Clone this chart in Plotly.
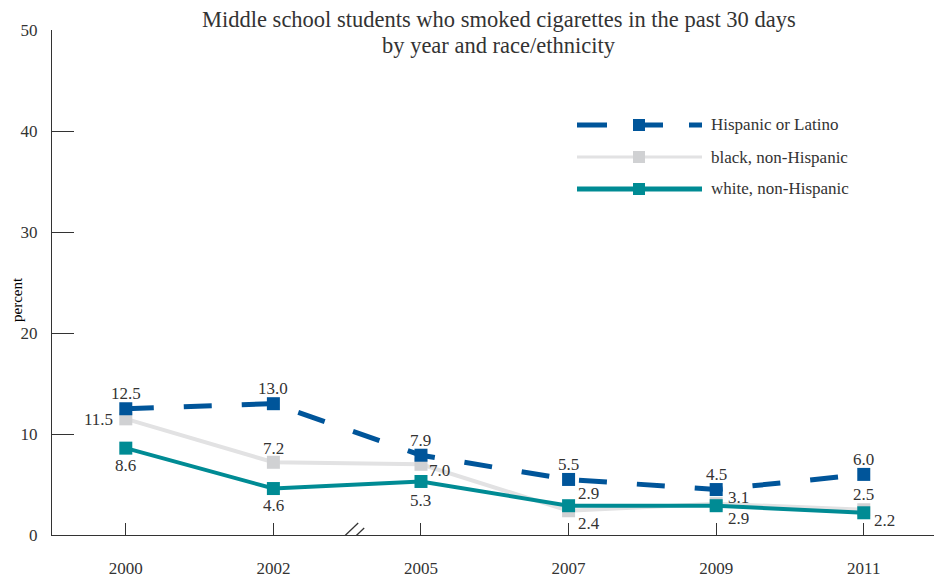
import plotly.graph_objects as go

years = ["2000", "2002", "2005", "2007", "2009", "2011"]
hispanic = [12.5, 13.0, 7.9, 5.5, 4.5, 6.0]
black = [11.5, 7.2, 7.0, 2.4, 3.1, 2.5]
white = [8.6, 4.6, 5.3, 2.9, 2.9, 2.2]
y_ticks = [0, 10, 20, 30, 40, 50]

C_HISP = "#00559a"
C_BLACK_LINE = "#e2e2e3"
C_BLACK_MK = "#d0d1d3"
C_WHITE = "#008b94"
FONT = "Liberation Serif"
TXT = "#333333"

# page body has an 8px margin; figure is sized/offset to land on the reference pixels
OFF = 8
W, H = 942 - OFF, 579 - OFF
L, T = 52 - OFF, 30 - OFF
R = 0
PW, PH = 890, 505
B = H - T - PH

def px(xs):
    return (xs - 52) / PW

def py(ys):
    return (535 - ys) / PH

fig = go.Figure()

series = [
    ("black, non-Hispanic", black, C_BLACK_LINE, C_BLACK_MK, 4, "solid"),
    ("white, non-Hispanic", white, C_WHITE, C_WHITE, 4, "solid"),
    ("Hispanic or Latino", hispanic, C_HISP, C_HISP, 5, "28px,30px"),
]
for name, vals, lc, mc, lw, dash in series:
    fig.add_trace(go.Scatter(
        x=years, y=vals, mode="lines+markers", name=name,
        line=dict(color=lc, width=lw, dash=dash),
        marker=dict(symbol="square", size=13, color=mc),
        cliponaxis=False, showlegend=False,
    ))

# label placement per point: (xanchor, xshift, yshift)
label_pos = {
    "hispanic": [("center", 0, 15)] * 6,
    "black": [("right", -11, -1), ("center", 0, 14), ("left", 6, -6),
              ("left", 7, -13), ("left", 10, 6), ("center", 0, 15)],
    "white": [("center", 0, -17), ("center", 0, -17), ("center", 0, -19),
              ("left", 7, 12), ("left", 10, -13), ("left", 8, -8)],
}
annotations = []
for key, vals in (("black", black), ("white", white), ("hispanic", hispanic)):
    for i, (v, (xa, xs, ys)) in enumerate(zip(vals, label_pos[key])):
        annotations.append(dict(text=f"{v:.1f}", x=i, y=v, xref="x", yref="y",
                                xanchor=xa, yanchor="middle", xshift=xs, yshift=ys,
                                showarrow=False,
                                font=dict(family=FONT, size=17, color=TXT)))

shapes = []
# axis break marks between 2002 and 2005
for x0, y0, x1, y1 in ((-11, -9, 11, 12), (-5, -14, 17, 7)):
    shapes.append(dict(type="line", xref="x", yref="y", xsizemode="pixel", ysizemode="pixel",
                       xanchor=1.5, yanchor=0, x0=x0, y0=y0, x1=x1, y1=y1,
                       line=dict(color=TXT, width=1.3)))

# manual legend
legend_items = [
    ("Hispanic or Latino", C_HISP, C_HISP, 5, "30px,26px", 125),
    ("black, non-Hispanic", C_BLACK_LINE, C_BLACK_MK, 3, "solid", 157),
    ("white, non-Hispanic", C_WHITE, C_WHITE, 5, "solid", 189),
]
for name, lc, mc, lw, dash, yy in legend_items:
    shapes.append(dict(type="line", xref="paper", yref="paper",
                       x0=px(577), x1=px(702), y0=py(yy), y1=py(yy),
                       line=dict(color=lc, width=lw, dash=dash)))
    shapes.append(dict(type="rect", xref="paper", yref="paper", xsizemode="pixel", ysizemode="pixel",
                       xanchor=px(639), yanchor=py(yy), x0=-6, x1=6, y0=-6, y1=6,
                       fillcolor=mc, line=dict(width=0)))
    annotations.append(dict(text=name, xref="paper", yref="paper", x=px(709), y=py(yy),
                            xanchor="left", yanchor="middle", showarrow=False,
                            font=dict(family=FONT, size=17, color=TXT)))

annotations.append(dict(text="percent", xref="paper", yref="paper", x=px(17), y=py(300),
                        textangle=-90, showarrow=False, xanchor="center", yanchor="middle",
                        font=dict(family=FONT, size=15, color="#000000")))

title_lines = ["Middle school students who smoked cigarettes in the past 30 days",
               "by year and race/ethnicity"]
for line, yy in zip(title_lines, (20, 45)):
    annotations.append(dict(text=line, xref="paper", yref="paper", x=px(499), y=py(yy),
                            xanchor="center", yanchor="middle", showarrow=False,
                            font=dict(family=FONT, size=22.5, color=TXT)))

fig.update_layout(
    width=W, height=H,
    margin=dict(l=L, r=R, t=T, b=B, autoexpand=False),
    paper_bgcolor="white", plot_bgcolor="white",
    shapes=shapes, annotations=annotations,
    xaxis=dict(type="category", categoryorder="array", categoryarray=years,
               range=[-0.5, 5.53], showgrid=False, zeroline=False,
               showline=True, linecolor=TXT, linewidth=1,
               ticks="inside", ticklen=12, tickcolor=TXT, tickwidth=1,
               ticklabelstandoff=18,
               tickfont=dict(family=FONT, size=17, color=TXT)),
    yaxis=dict(range=[0, 50], tickvals=y_ticks, showgrid=False, zeroline=False,
               showline=True, linecolor=TXT, linewidth=1,
               ticks="inside", ticklen=22, tickcolor=TXT, tickwidth=1,
               ticklabelstandoff=10,
               tickfont=dict(family=FONT, size=17, color=TXT)),
)

fig.write_html("out.html")
